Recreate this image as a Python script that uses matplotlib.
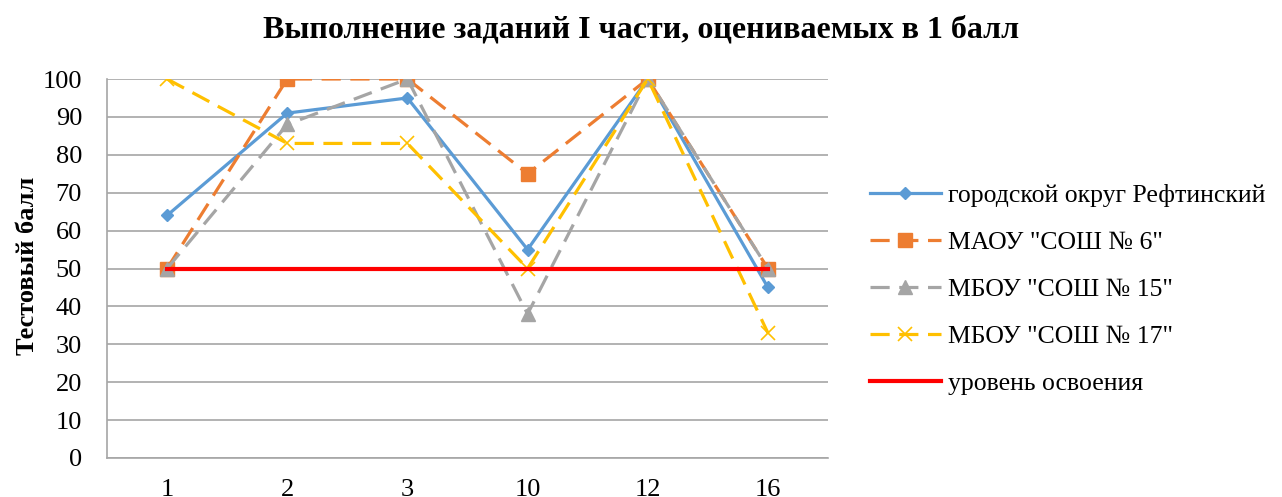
import matplotlib
matplotlib.use("Agg")
import matplotlib.pyplot as plt

categories = ["1", "2", "3", "10", "12", "16"]
series_names = ["городской округ Рефтинский", 'МАОУ "СОШ № 6"', 'МБОУ "СОШ № 15"',
                'МБОУ "СОШ № 17"', "уровень освоения"]
refta = [64, 91, 95, 55, 100, 45]
sosh6 = [50, 100, 100, 75, 100, 50]
sosh15 = [50, 88, 100, 38, 100, 50]
sosh17 = [100, 83, 83, 50, 100, 33]
level = [50, 50, 50, 50, 50, 50]
yticks = list(range(0, 101, 10))

plt.rcParams['font.family'] = ['Liberation Serif', 'DejaVu Serif']

fig = plt.figure(figsize=(12.82, 4.97), dpi=100)
ax = fig.add_axes([107/1282, 1-458/497, (828-107)/1282, (458-79)/497])

x = list(range(len(categories)))
dash = (6, 3)
ax.plot(x, refta, color="#5B9BD5", lw=2.3, marker="D", ms=6.5, zorder=3, label=series_names[0])
ax.plot(x, sosh6, color="#ED7D31", lw=2.3, marker="s", ms=9.5, dashes=dash, zorder=3, label=series_names[1])
ax.plot(x, sosh15, color="#A5A5A5", lw=2.3, marker="^", ms=10, dashes=dash, zorder=3, label=series_names[2])
ax.plot(x, sosh17, color="#FFC000", lw=2.3, marker="x", ms=10, mew=1.2, dashes=dash, zorder=3, label=series_names[3])
ax.plot(x, level, color="#FF0000", lw=3, zorder=4, label=series_names[4])

ax.set_xlim(-0.5, 5.5)
ax.set_ylim(0, 100)
ax.set_yticks(yticks)
ax.set_xticks(x)
ax.set_xticklabels(categories)
ax.grid(axis="y", color="#A6A6A6", lw=1.2)
ax.set_axisbelow(True)
for s in ["top", "right"]:
    ax.spines[s].set_visible(False)
for s in ["left", "bottom"]:
    ax.spines[s].set_color("#A6A6A6")
    ax.spines[s].set_linewidth(1.2)
ax.tick_params(axis="both", length=0, labelsize=19)
ax.tick_params(axis="y", pad=18)
ax.tick_params(axis="x", pad=15)

fig.text(28/1282, 1-266/497, "Тестовый балл", rotation=90, ha="center", va="center",
         fontsize=19, fontweight="bold")
fig.text(0.5, 1-30/497, "Выполнение заданий I части, оцениваемых в 1 балл",
         ha="center", va="center", fontsize=23, fontweight="bold")

leg = ax.legend(loc="upper left", bbox_to_anchor=(870/1282, 1-184/497),
                bbox_transform=fig.transFigure, frameon=False, fontsize=18.5,
                handlelength=2.75, handletextpad=0.27, labelspacing=0.93, borderaxespad=0,
                borderpad=0)

fig.savefig("out.png", dpi=100)
